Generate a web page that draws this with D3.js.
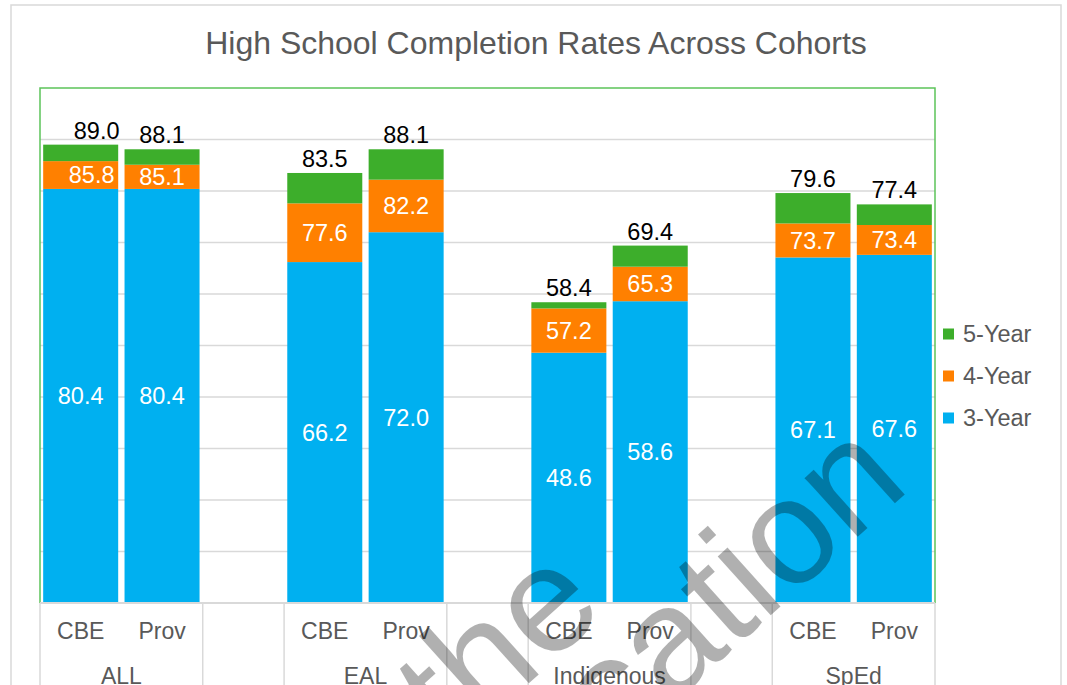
<!DOCTYPE html>
<html>
<head>
<meta charset="utf-8">
<script src="https://cdn.jsdelivr.net/npm/d3@7"></script>
<style>
  body { margin: 0; background: #fff; }
  svg { display: block; font-family: "Liberation Sans", Arial, sans-serif; }
</style>
</head>
<body>
<div id="chart"></div>
<script>
// cohorts and sources on the category axis
var groups = ["ALL", "EAL", "Indigenous", "SpEd"];
var sources = ["CBE", "Prov"];
var seriesNames = ["3-Year", "4-Year", "5-Year"];

// completion rates, in the order ALL CBE, ALL Prov, EAL CBE, ...
var rate3 = [80.4, 80.4, 66.2, 72.0, 48.6, 58.6, 67.1, 67.6];
var rate4 = [85.8, 85.1, 77.6, 82.2, 57.2, 65.3, 73.7, 73.4];
var rate5 = [89.0, 88.1, 83.5, 88.1, 58.4, 69.4, 79.6, 77.4];

var colors = ["#00B0F0", "#FF8000", "#3DAE2B"];

var width = 1067, height = 685;
var plot = {left: 40, right: 935, top: 88, bottom: 603};

var svg = d3.select("#chart").append("svg")
  .attr("width", width)
  .attr("height", height);

// outer chart frame
svg.append("rect")
  .attr("x", 11).attr("y", 5)
  .attr("width", 1050).attr("height", 700)
  .attr("fill", "none")
  .attr("stroke", "#d9d9d9")
  .attr("stroke-width", 1.5);

svg.append("text")
  .attr("x", 536).attr("y", 54)
  .attr("text-anchor", "middle")
  .attr("fill", "#595959")
  .attr("font-size", 32)
  .text("High School Completion Rates Across Cohorts");

//build the slots: two bars per cohort, an empty slot between cohorts
var slots = [];
var bars = [];
groups.forEach(function(g, gi) {
  sources.forEach(function(s, si) {
    var i = gi * sources.length + si;
    var key = g + "|" + s;
    slots.push(key);
    bars.push({key: key, group: g, source: s, idx: i,
      r: [rate3[i], rate4[i], rate5[i]]});
  });
  if (gi < groups.length - 1) slots.push("gap" + gi);
});

var x = d3.scaleBand()
  .domain(slots)
  .range([plot.left, plot.right])
  .paddingInner(0.078)
  .paddingOuter(0.039);

var step = x.step();
var slotStart = function(k) { return plot.left + slots.indexOf(k) * step; };

var y = d3.scaleLinear()
  .domain([0, 100])
  .range([plot.bottom, plot.top]);

//GRIDLINES
svg.append("g")
  .selectAll("line")
  .data(d3.range(10, 100, 10))
  .enter().append("line")
  .attr("x1", plot.left).attr("x2", plot.right)
  .attr("y1", function(d) { return y(d); })
  .attr("y2", function(d) { return y(d); })
  .attr("stroke", "#d9d9d9")
  .attr("stroke-width", 1.5);

//STACKED BARS
var segs = [];
bars.forEach(function(b) {
  var lo = 0;
  b.r.forEach(function(v, k) {
    segs.push({bar: b, k: k, y0: lo, y1: v});
    lo = v;
  });
});

svg.append("g")
  .selectAll("rect")
  .data(segs)
  .enter().append("rect")
  .attr("x", function(d) { return x(d.bar.key); })
  .attr("width", x.bandwidth())
  .attr("y", function(d) { return y(d.y1); })
  .attr("height", function(d) { return y(d.y0) - y(d.y1); })
  .attr("fill", function(d) { return colors[d.k]; });

// white labels inside the 3-year and 4-year segments
svg.append("g")
  .selectAll("text")
  .data(segs.filter(function(d) { return d.k < 2; }))
  .enter().append("text")
  .attr("x", function(d) { return x(d.bar.key) + x.bandwidth() / 2; })
  .attr("y", function(d) { return (y(d.y0) + y(d.y1)) / 2; })
  .attr("dx", function(d) { return d.k === 1 && d.bar.idx === 0 ? 11 : 0; })
  .attr("dy", "0.35em")
  .attr("text-anchor", "middle")
  .attr("fill", "#fff")
  .attr("font-size", 23.5)
  .text(function(d) { return d.y1.toFixed(1); });

// totals above the bars
svg.append("g")
  .selectAll("text")
  .data(segs.filter(function(d) { return d.k === 2; }))
  .enter().append("text")
  .attr("x", function(d) { return x(d.bar.key) + x.bandwidth() / 2; })
  .attr("y", function(d) { return y(d.y1) - 6; })
  .attr("dx", function(d) { return d.bar.idx === 0 ? 16 : 0; })
  .attr("text-anchor", "middle")
  .attr("fill", "#000")
  .attr("font-size", 23.5)
  .text(function(d) { return d.y1.toFixed(1); });

//PLOT BORDER + AXIS
svg.append("path")
  .attr("d", "M" + plot.left + "," + plot.bottom + "V" + plot.top +
    "H" + plot.right + "V" + plot.bottom)
  .attr("fill", "none")
  .attr("stroke", "#5cc35a")
  .attr("stroke-width", 1.5);

svg.append("line")
  .attr("x1", plot.left).attr("x2", plot.right)
  .attr("y1", plot.bottom).attr("y2", plot.bottom)
  .attr("stroke", "#d9d9d9")
  .attr("stroke-width", 2);

// separators between cohorts and gaps in the label area
var seps = [plot.left];
slots.forEach(function(k, i) {
  var isGap = k.indexOf("gap") === 0;
  var next = slots[i + 1];
  if (isGap || !next || next.indexOf("gap") === 0) seps.push(plot.left + (i + 1) * step);
});

svg.append("g")
  .selectAll("line")
  .data(seps)
  .enter().append("line")
  .attr("x1", function(d) { return d; })
  .attr("x2", function(d) { return d; })
  .attr("y1", plot.bottom).attr("y2", height)
  .attr("stroke", "#d9d9d9")
  .attr("stroke-width", 1.5);

svg.append("g")
  .selectAll("text")
  .data(bars)
  .enter().append("text")
  .attr("x", function(d) { return x(d.key) + x.bandwidth() / 2; })
  .attr("y", 639)
  .attr("text-anchor", "middle")
  .attr("fill", "#595959")
  .attr("font-size", 23)
  .text(function(d) { return d.source; });

svg.append("g")
  .selectAll("text")
  .data(groups)
  .enter().append("text")
  .attr("x", function(g) { return slotStart(g + "|" + sources[0]) + step; })
  .attr("y", 684)
  .attr("text-anchor", "middle")
  .attr("fill", "#595959")
  .attr("font-size", 23)
  .text(function(g) { return g; });

//LEGEND
var legend = svg.append("g")
  .selectAll("g")
  .data(seriesNames.slice().reverse())
  .enter().append("g")
  .attr("transform", function(d, i) { return "translate(943," + (334 + i * 42) + ")"; });

legend.append("rect")
  .attr("x", 0).attr("y", -5.5)
  .attr("width", 11).attr("height", 11)
  .attr("fill", function(d) { return colors[seriesNames.indexOf(d)]; });

legend.append("text")
  .attr("x", 20)
  .attr("dy", "0.35em")
  .attr("fill", "#595959")
  .attr("font-size", 23.5)
  .text(function(d) { return d; });

//WATERMARK
var wm = svg.append("g")
  .attr("fill", "#000")
  .attr("fill-opacity", 0.31)
  .attr("font-size", 150)
  .attr("text-anchor", "end");

wm.append("text")
  .attr("transform", "translate(608,612) rotate(-42)")
  .text("Property of the");

wm.append("text")
  .attr("transform", "translate(912,488) rotate(-42)")
  .text("Calgary Board of Education");
</script>
</body>
</html>
